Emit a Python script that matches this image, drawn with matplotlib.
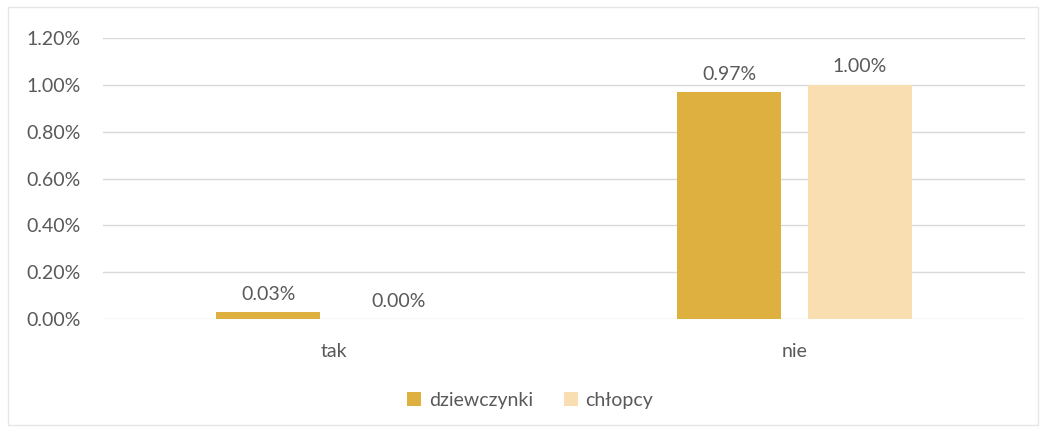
import matplotlib.pyplot as plt
import numpy as np
from matplotlib.patches import Rectangle

plt.rcParams['font.family'] = ['Lato', 'DejaVu Sans']

kategorie = ["tak", "nie"]
dziewczynki = [0.03, 0.97]
chlopcy = [0.00, 1.00]
ticki = [0.0, 0.2, 0.4, 0.6, 0.8, 1.0, 1.2]

kolor_d = "#DDB03F"
kolor_c = "#F8DEB0"
szary = "#595959"
fs = 14

fig = plt.figure(figsize=(10.46, 4.32), dpi=100)
ax = fig.add_axes([0.0985, 0.2616, 0.8815, 0.6504])

x = np.arange(len(kategorie))
w = 0.226
off = 0.142
b1 = ax.bar(x - off, dziewczynki, w, color=kolor_d, label="dziewczynki")
b2 = ax.bar(x + off, chlopcy, w, color=kolor_c, label="chłopcy")

# etykiety nad słupkami
for bars in (b1, b2):
    for r in bars:
        h = r.get_height()
        ax.text(r.get_x() + r.get_width() / 2, h + 0.04, f"{h:.2f}%",
                ha="center", va="bottom", fontsize=fs, color=szary)

ax.set_xlim(-0.5, 1.5)
ax.set_ylim(0, 1.2)
ax.set_yticks(ticki)
ax.set_yticklabels([f"{t:.2f}%" for t in ticki])
ax.set_xticks(x)
ax.set_xticklabels(kategorie)
ax.tick_params(axis="both", length=0, labelsize=fs, labelcolor=szary)
ax.tick_params(axis="y", pad=16)
ax.tick_params(axis="x", pad=17)
ax.grid(axis="y", color="#D9D9D9", linewidth=1)
ax.set_axisbelow(True)
for s in ax.spines.values():
    s.set_visible(False)

fig.legend(handles=[b1, b2], loc="center", bbox_to_anchor=(0.507, 0.074),
           ncol=2, frameon=False, fontsize=fs, labelcolor=szary,
           handlelength=0.7, handleheight=0.7, handletextpad=0.4, columnspacing=1.6)

fig.patches.append(Rectangle((8 / 1046, 7 / 432), 1 - 16 / 1046, 1 - 14 / 432,
                             transform=fig.transFigure, fill=False,
                             edgecolor="#E6E6E6", linewidth=1))

fig.savefig("out.png", dpi=100)
